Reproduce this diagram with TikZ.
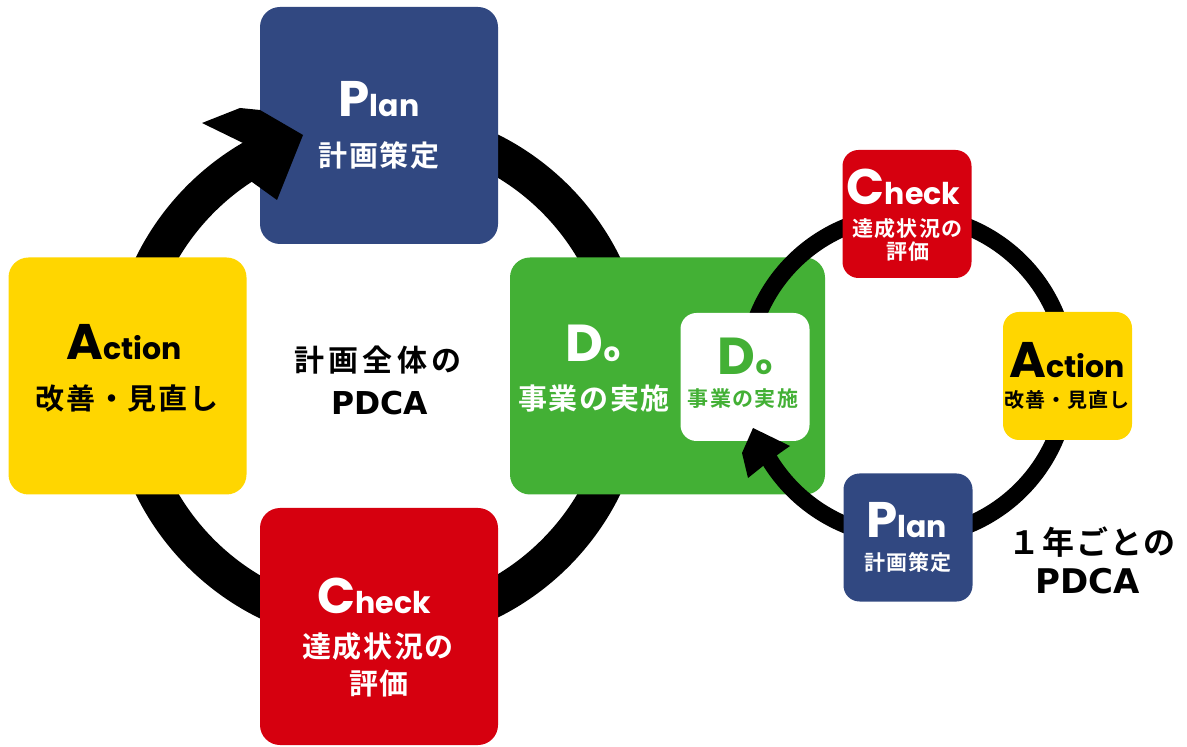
\documentclass[tikz,border=0pt]{standalone}
\usepackage{fontspec}
\newfontfamily\jp{Noto Sans CJK JP Bold}[LetterSpace=6]
\newfontfamily\jpw{Noto Sans CJK JP Bold}[LetterSpace=14]
\newfontfamily\lat{Poppins Bold}
\newfontfamily\capt{DejaVu Sans Bold}
\definecolor{pblue}{RGB}{49,72,129}
\definecolor{cred}{RGB}{214,0,15}
\definecolor{ayellow}{RGB}{255,214,0}
\definecolor{dgreen}{RGB}{67,176,53}
\newcommand{\fs}[1]{\fontsize{#1}{#1}\selectfont}
\newcommand{\bigword}[2]{{\lat\fs{25pt}#1\fs{15pt}#2}}
\newcommand{\doword}{{\lat\fs{26pt}D\fs{13pt}o}}
\begin{document}
\begin{tikzpicture}[x=0.5pt,y=-0.5pt,
  bigbox/.style={rectangle, rounded corners=10pt, inner sep=0pt, minimum width=119pt, minimum height=118.5pt},
  smallbox/.style={rectangle, rounded corners=8pt, inner sep=0pt, minimum width=64.5pt, minimum height=64pt},
  bigring/.style={draw=black, line width=19pt},
  smallring/.style={draw=black, line width=8.5pt},
  lbl/.style={inner sep=0pt, anchor=base},
  jl/.style={inner sep=0pt}]
\useasboundingbox (0,0) rectangle (1187,747);
% big ring
\coordinate (bc) at (378,376);
\draw[bigring] (bc) circle[radius=125.3pt];
% big boxes
\node[bigbox, fill=pblue] (plan) at (379,125.5) {};
\node[bigbox, fill=ayellow] (act) at (127.5,376) {};
\node[bigbox, fill=cred] (chk) at (379,626.5) {};
\node[bigbox, fill=dgreen, minimum width=157.5pt] (do) at (667.5,376) {};
% small ring
\coordinate (sc) at (907,376);
\draw[smallring] (sc) circle[radius=80.5pt];
% small boxes
\node[smallbox, fill=white] (sdo) at (745,377) {};
\node[smallbox, fill=cred] (schk) at (907,214) {};
\node[smallbox, fill=ayellow] (sact) at (1067.5,376) {};
\node[smallbox, fill=pblue] (splan) at (908,537.5) {};
% arrow heads
\fill[black] (303,135) -- (260,110) -- (240,108) -- (202,123) -- (243,143) -- (252,182) -- (277,200) -- cycle;
\fill[black] (753,428) -- (790,446) -- (780,453) -- (763,466) -- (748,478) -- (742,453) -- cycle;
% big labels
\node[lbl, text=white] (tplan) at (379,117) {\bigword{P}{lan}};
\node[jl, text=white] (jplan) at (379,155) {\jp\fs{14.5pt}計画策定};
\node[lbl, text=black] (tact) at (124,360) {\bigword{A}{ction}};
\node[jl, text=black] (jact) at (127,398.5) {\jp\fs{14.5pt}改善・見直し};
\node[lbl, text=white] (tchk) at (374,613) {\bigword{C}{heck}};
\node[jl, text=white] (jchk1) at (378,646.5) {\jp\fs{14.5pt}達成状況の};
\node[jl, text=white] (jchk2) at (379,683.5) {\jp\fs{14.5pt}評価};
\node[lbl, text=white] (tdo) at (593,362) {\doword};
\node[jl, text=white] (jdo) at (594,398.5) {\jp\fs{14.5pt}事業の実施};
% inner do
\node[lbl, text=dgreen] (tsdo) at (745,375) {\doword};
\node[jl, text=dgreen] (jsdo) at (743,399) {\jp\fs{10.5pt}事業の実施};
% small labels
\node[lbl, text=white] (tschk) at (903.5,205) {\bigword{C}{heck}};
\node[jl, text=white] (jschk1) at (907.5,229) {\jp\fs{10.5pt}達成状況の};
\node[jl, text=white] (jschk2) at (908,252) {\jp\fs{10.5pt}評価};
\node[lbl, text=black] (tsact) at (1067,378) {\bigword{A}{ction}};
\node[jl, text=black] (jsact) at (1067,400) {\jp\fs{10pt}改善・見直し};
\node[lbl, text=white] (tsplan) at (906.5,538) {\bigword{P}{lan}};
\node[jl, text=white] (jsplan) at (908,563) {\jp\fs{10.5pt}計画策定};
% centre and side captions
\node[jl, text=black] (c1) at (378,360) {\jpw\fs{15pt}計画全体の};
\node[lbl, text=black] (c2) at (380,415) {\capt\fs{15.75pt}PDCA};
\node[jl, text=black] (r1) at (1092,542) {\jp\fs{16pt}１年ごとの};
\node[lbl, text=black] (r2) at (1088,593) {\capt\fs{17pt}PDCA};
\end{tikzpicture}
\end{document}
